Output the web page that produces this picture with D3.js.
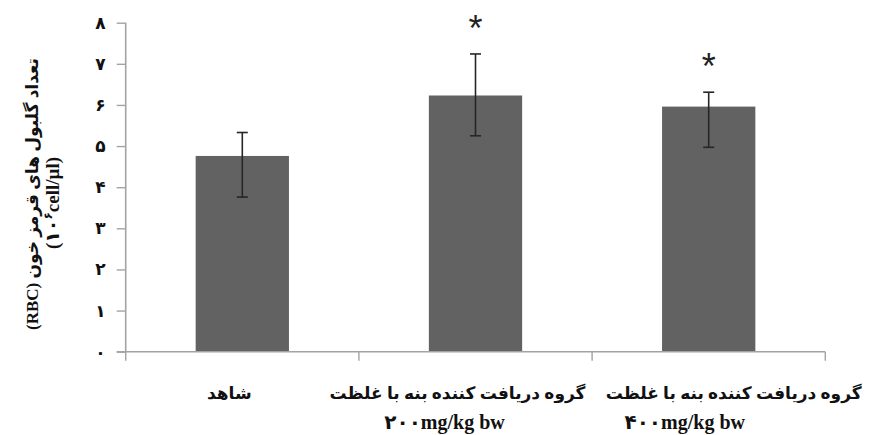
<!DOCTYPE html>
<html>
<head>
<meta charset="utf-8">
<script src="https://cdn.jsdelivr.net/npm/d3@7"></script>
<style>
  html, body { margin: 0; padding: 0; background: #fff; }
  svg { display: block; }
</style>
</head>
<body>
<svg id="chart" width="875" height="435"></svg>
<script>
// Red blood cell counts per group (10^6 cell/µl)
const categories = ["control", "dose200", "dose400"];
const labelLine1 = ["شاهد", "گروه دریافت کننده بنه با غلظت", "گروه دریافت کننده بنه با غلظت"];
const labelLine2 = ["", "۲۰۰mg/kg bw", "۴۰۰mg/kg bw"];
const means = [4.76, 6.23, 5.96];
const errUp = [0.57, 1.01, 0.35];
const errDown = [1.00, 0.98, 0.99];
const significant = [false, true, true];
const yTicks = [0, 1, 2, 3, 4, 5, 6, 7, 8];
const persianDigits = ["۰", "۱", "۲", "۳", "۴", "۵", "۶", "۷", "۸", "۹"];

const svg = d3.select("#chart");
const plotLeft = 125.7, plotRight = 825.3, plotTop = 22.7, plotBottom = 351.7;

const x = d3.scaleBand()
  .domain(categories)
  .range([plotLeft, plotRight])
  .paddingInner(0.6)
  .paddingOuter(0.3);

const y = d3.scaleLinear().domain([0, 8]).range([plotBottom, plotTop]);

const axisColor = "#a3a3a3";
const serif = "'Liberation Serif', 'Times New Roman', 'DejaVu Sans', serif";

// Bars
svg.append("g").selectAll("rect")
  .data(categories)
  .join("rect")
  .attr("x", d => x(d))
  .attr("width", x.bandwidth())
  .attr("y", (d, i) => y(means[i]))
  .attr("height", (d, i) => y(0) - y(means[i]))
  .attr("fill", "#626262");

// Error bars
const eb = svg.append("g").attr("stroke", "#262626").attr("stroke-width", 1.6);
categories.forEach((c, i) => {
  const cx = x(c) + x.bandwidth() / 2;
  const yHi = y(means[i] + errUp[i]);
  const yLo = y(means[i] - errDown[i]);
  eb.append("line").attr("x1", cx).attr("x2", cx).attr("y1", yHi).attr("y2", yLo);
  eb.append("line").attr("x1", cx - 5.5).attr("x2", cx + 5.5).attr("y1", yHi).attr("y2", yHi);
  eb.append("line").attr("x1", cx - 5.5).attr("x2", cx + 5.5).attr("y1", yLo).attr("y2", yLo);
});

// Significance markers
svg.append("g").selectAll("text")
  .data(categories.filter((c, i) => significant[i]))
  .join("text")
  .attr("x", c => x(c) + x.bandwidth() / 2)
  .attr("y", c => { const i = categories.indexOf(c); return y(means[i] + errUp[i]) - 13; })
  .attr("text-anchor", "middle")
  .attr("font-family", "'Liberation Sans', Arial, sans-serif")
  .attr("font-size", 36)
  .attr("fill", "#222")
  .text("*");

// Y axis
const yAxis = svg.append("g")
  .attr("transform", `translate(${plotLeft},0)`)
  .call(d3.axisLeft(y).tickValues(yTicks).tickSize(9).tickPadding(11)
    .tickFormat(d => String(d).split("").map(ch => persianDigits[+ch]).join("")));
yAxis.select(".domain").remove();
yAxis.selectAll(".tick line").attr("stroke", axisColor).attr("stroke-width", 1.4);
yAxis.selectAll(".tick text")
  .attr("font-family", serif)
  .attr("font-weight", "bold")
  .attr("font-size", 17)
  .attr("fill", "#111");
yAxis.append("line")
  .attr("x1", 0).attr("x2", 0).attr("y1", plotTop).attr("y2", plotBottom)
  .attr("stroke", axisColor).attr("stroke-width", 1.6);

// X axis with boundary ticks between categories
const xg = svg.append("g");
xg.append("line")
  .attr("x1", plotLeft - 9).attr("x2", plotRight).attr("y1", plotBottom).attr("y2", plotBottom)
  .attr("stroke", axisColor).attr("stroke-width", 1.6);
const step = x.step();
const bounds = d3.range(categories.length + 1).map(k => plotLeft + k * step);
xg.selectAll("line.sep")
  .data(bounds)
  .join("line")
  .attr("class", "sep")
  .attr("x1", d => d).attr("x2", d => d)
  .attr("y1", plotBottom).attr("y2", plotBottom + 9)
  .attr("stroke", axisColor).attr("stroke-width", 1.4);

// Category labels
const labelShift = [-13, -18, 25];
const line2Shift = [0, -31, -24];
categories.forEach((c, i) => {
  const cx = x(c) + x.bandwidth() / 2;
  svg.append("text")
    .attr("x", cx + labelShift[i])
    .attr("y", 399)
    .attr("text-anchor", "middle")
    .attr("direction", "rtl")
    .attr("font-family", serif)
    .attr("font-weight", "bold")
    .attr("font-size", 17)
    .attr("fill", "#111")
    .text(labelLine1[i]);
  if (labelLine2[i]) {
    svg.append("text")
      .attr("x", cx + line2Shift[i])
      .attr("y", 429)
      .attr("text-anchor", "middle")
      .attr("font-family", serif)
      .attr("font-weight", "bold")
      .attr("font-size", 20)
      .attr("fill", "#111")
      .text(labelLine2[i]);
  }
});

// Y axis title
const title = svg.append("g").attr("transform", "translate(0,200) rotate(-90)");
title.append("text")
  .attr("x", 6).attr("y", 38)
  .attr("text-anchor", "middle")
  .attr("direction", "rtl")
  .attr("font-family", serif)
  .attr("font-weight", "bold")
  .attr("font-size", 17)
  .attr("fill", "#111")
  .text("تعداد گلبول های قرمز خون (RBC)");
const t2 = title.append("text")
  .attr("x", -3).attr("y", 59)
  .attr("text-anchor", "middle")
  .attr("font-family", serif)
  .attr("font-weight", "bold")
  .attr("font-size", 19)
  .attr("fill", "#111");
t2.append("tspan").text("(۱۰");
t2.append("tspan").attr("font-size", 12).attr("dy", -7).text("۶");
t2.append("tspan").attr("dy", 7).text("cell/µl)");
</script>
</body>
</html>
